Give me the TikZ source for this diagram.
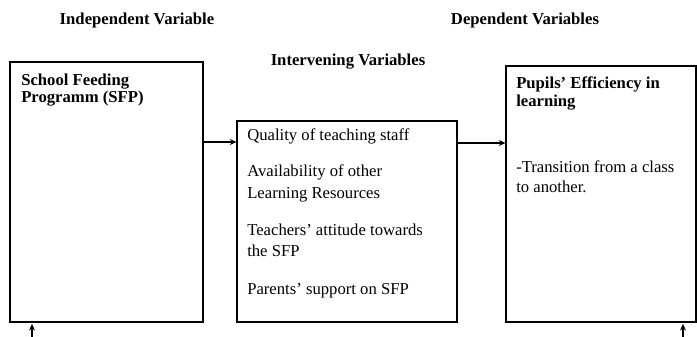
\documentclass[tikz,border=0pt]{standalone}
\usepackage{fontspec}
\setmainfont{Liberation Serif}
\usetikzlibrary{arrows.meta,fit}
\begin{document}
\begin{tikzpicture}[x=0.75pt,y=-0.75pt,
  box/.style={draw, line width=0.8pt, rectangle, inner sep=0pt},
  txt/.style={anchor=base west, inner sep=0pt, font=\fontsize{12.5}{15}\selectfont},
  btxt/.style={anchor=base west, inner sep=0pt, font=\fontsize{12.5}{15}\selectfont\bfseries},
  ttl/.style={anchor=base, inner sep=0pt, font=\fontsize{12.5}{15}\selectfont\bfseries},
  arr/.style={line width=0.8pt, -{Stealth[length=5pt,width=4.5pt]}}]
\useasboundingbox (0,0) rectangle (697,336);
% titles
\node[ttl] (tind) at (137,24) {Independent Variable};
\node[ttl] (tdep) at (525,24) {Dependent Variables};
\node[ttl] (tint) at (348,65) {Intervening Variables};
% boxes
\coordinate (la) at (10,62); \coordinate (lb) at (203,322);
\coordinate (ma) at (237,121); \coordinate (mb) at (457,322);
\coordinate (ra) at (506,66); \coordinate (rb) at (696,322);
\node[box, fit=(la)(lb)] (L) {};
\node[box, fit=(ma)(mb)] (M) {};
\node[box, fit=(ra)(rb)] (R) {};
% left text
\node[btxt] (l1) at (21,85) {School Feeding};
\node[btxt] (l2) at (21,102) {Programm (SFP)};
% middle text
\node[txt] (m1) at (247,140) {Quality of teaching staff};
\node[txt] (m2) at (247,176) {Availability of other};
\node[txt] (m3) at (247,198) {Learning Resources};
\node[txt] (m4) at (247,235) {Teachers’ attitude towards};
\node[txt] (m5) at (247,256) {the SFP};
\node[txt] (m6) at (247,294) {Parents’ support on SFP};
% right text
\node[btxt] (r1) at (516,88) {Pupils’ Efficiency in};
\node[btxt] (r2) at (516,106) {learning};
\node[txt] (r3) at (516,172) {-Transition from a class};
\node[txt] (r4) at (516,192) {to another.};
% arrows
\draw[arr] (L.east |- 0,142) -- (M.west |- 0,142);
\draw[arr] (M.east |- 0,143) -- (R.west |- 0,143);
\coordinate (b1) at (32,337);
\coordinate (b2) at (683,337);
\draw[arr] (b1) -- ([yshift=-1pt]b1 |- L.south);
\draw[arr] (b2) -- ([yshift=-1pt]b2 |- R.south);
\end{tikzpicture}
\end{document}
